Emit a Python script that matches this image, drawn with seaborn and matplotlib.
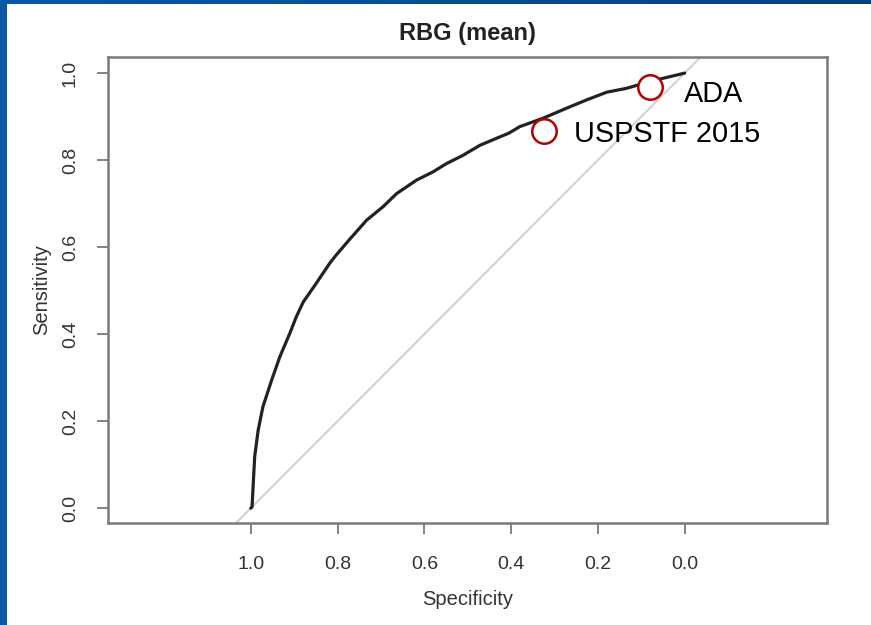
import matplotlib
matplotlib.use("Agg")
import matplotlib.pyplot as plt
from matplotlib.colors import LinearSegmentedColormap
import numpy as np
import pandas as pd
import seaborn as sns

# ROC curve (specificity, sensitivity)
specificity = [1.0, 0.997, 0.991, 0.983, 0.972, 0.952, 0.933, 0.910, 0.895,
               0.879, 0.849, 0.818, 0.803, 0.772, 0.733, 0.695, 0.664, 0.618,
               0.580, 0.549, 0.511, 0.472, 0.434, 0.405, 0.380, 0.327, 0.273,
               0.227, 0.180, 0.134, 0.096, 0.050, 0.0]
sensitivity = [0.0, 0.003, 0.118, 0.179, 0.233, 0.294, 0.348, 0.402, 0.440,
               0.474, 0.517, 0.563, 0.582, 0.618, 0.662, 0.693, 0.723, 0.754,
               0.773, 0.792, 0.811, 0.834, 0.850, 0.862, 0.877, 0.896, 0.919,
               0.938, 0.956, 0.965, 0.976, 0.988, 1.0]

point_labels = ["ADA", "USPSTF 2015"]
point_spec = [0.081, 0.325]
point_sens = [0.968, 0.867]

x_ticks = [1.0, 0.8, 0.6, 0.4, 0.2, 0.0]
y_ticks = [0.0, 0.2, 0.4, 0.6, 0.8, 1.0]

sns.set_style("white")
plt.rcParams["font.family"] = ["Liberation Sans", "DejaVu Sans"]

W, H = 871, 625
fig = plt.figure(figsize=(W / 100, H / 100), dpi=100)
fig.patch.set_facecolor("white")

# blue frame (left and top bands)
fl = fig.add_axes([0, 0, 7 / W, 1])
fl.set_axis_off()
fl.add_patch(plt.Rectangle((0, 0), 1, 1, color="#0a59a6", transform=fl.transAxes))
ft = fig.add_axes([0, 1 - 4 / H, 1, 4 / H])
ft.set_axis_off()
grad = np.linspace(0, 1, 256).reshape(1, -1)
cm = LinearSegmentedColormap.from_list("b", ["#0a59a6", "#01427f"])
ft.imshow(grad, aspect="auto", cmap=cm, extent=[0, 1, 0, 1])

left, right, top, bottom = 108, 827, 57, 523
ax = fig.add_axes([left / W, 1 - bottom / H, (right - left) / W, (bottom - top) / H])

xlo, xhi = 1.329, -0.328
ylo, yhi = -0.034, 1.037
ax.set_xlim(xlo, xhi)
ax.set_ylim(ylo, yhi)

# chance diagonal clipped to plot region
ax.plot([1 - ylo, 1 - yhi], [ylo, yhi], color="#d4d4d4", lw=1.6, zorder=1)

df = pd.DataFrame({"Specificity": specificity, "Sensitivity": sensitivity})
sns.lineplot(data=df, x="Specificity", y="Sensitivity", sort=False,
             color="#222222", lw=2.3, ax=ax, zorder=3)

pts = pd.DataFrame({"spec": point_spec, "sens": point_sens, "label": point_labels})
sns.scatterplot(data=pts, x="spec", y="sens", s=310, facecolor="white",
                edgecolor="#b30000", linewidth=1.8, ax=ax, zorder=4)
offsets = [(0.08, -0.017), (0.07, -0.006)]
for (_, r), (dx, dy) in zip(pts.iterrows(), offsets):
    ax.text(r["spec"] - dx, r["sens"] + dy, r["label"], fontsize=20.8,
            color="black", va="center", ha="left", zorder=5)

ax.set_xticks(x_ticks)
ax.set_xticklabels([f"{v:.1f}" for v in x_ticks])
ax.set_yticks(y_ticks)
ax.set_yticklabels([f"{v:.1f}" for v in y_ticks], rotation=90, va="center")
ax.tick_params(axis="both", length=8, width=1.3, color="#7a7a7a",
               labelsize=14, labelcolor="#333333", direction="out",
               bottom=True, left=True)
ax.tick_params(axis="x", pad=16)
ax.tick_params(axis="y", pad=13)
for sp in ax.spines.values():
    sp.set_color("#7a7a7a")
    sp.set_linewidth(1.8)
    sp.set_visible(True)

ax.set_xlabel("Specificity", fontsize=14.5, color="#333333", labelpad=12)
ax.set_ylabel("Sensitivity", fontsize=14.5, color="#333333", labelpad=8)
ax.set_title("RBG (mean)", fontsize=17, fontweight="bold", color="#222222", pad=12)

fig.savefig("out.png", dpi=100, facecolor="white")
